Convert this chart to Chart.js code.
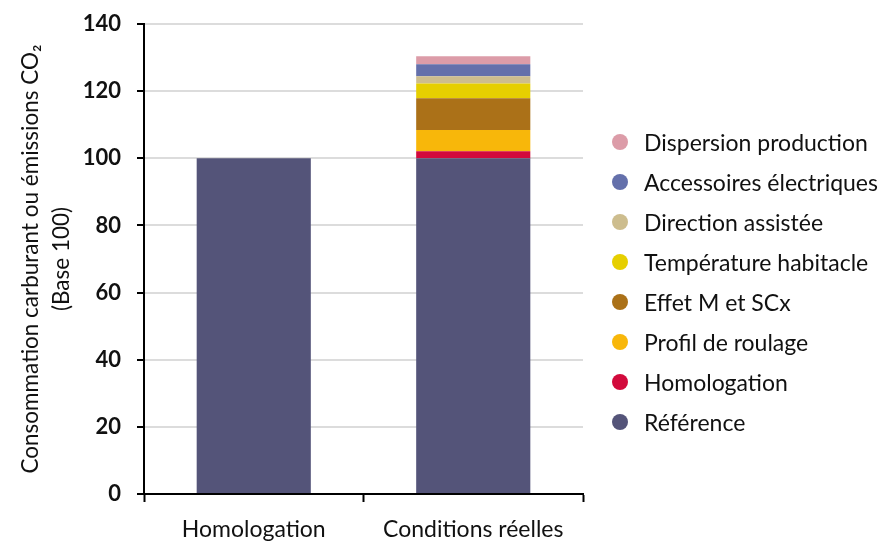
<!DOCTYPE html>
<html>
<head>
<meta charset="utf-8">
<script src="https://cdn.jsdelivr.net/npm/chart.js@4"></script>
<style>
  html, body { margin:0; padding:0; background:#fff; }
  #wrap { position:relative; width:893px; height:544px; }
  #legend { position:absolute; left:612px; top:122px; font-family: Lato, sans-serif; font-size:23px; color:#111; }
  .item { height:40px; display:flex; align-items:center; white-space:nowrap; }
  .dot { width:16px; height:16px; border-radius:50%; margin-right:16px; flex:none; }
</style>
</head>
<body>
<div id="wrap">
  <canvas id="c" width="893" height="544"></canvas>
  <div id="legend"></div>
</div>
<script>
const categories = ["Homologation", "Conditions réelles"];
const seriesNames = ["Référence", "Homologation", "Profil de roulage", "Effet M et SCx", "Température habitacle", "Direction assistée", "Accessoires électriques", "Dispersion production"];
const reference = [100, 100];
const homologation = [null, 2.1];
const profilRoulage = [null, 6.3];
const effetMSCx = [null, 9.5];
const temperatureHabitacle = [null, 4.4];
const directionAssistee = [null, 2.1];
const accessoiresElectriques = [null, 3.6];
const dispersionProduction = [null, 2.4];
const yTicks = [0, 20, 40, 60, 80, 100, 120, 140];
const colors = ["#545479", "#d20a3c", "#f8b70a", "#ab7118", "#e6cf00", "#cdbd8e", "#6470ab", "#dc9ca8"];

const seriesValues = [reference, homologation, profilRoulage, effetMSCx, temperatureHabitacle, directionAssistee, accessoiresElectriques, dispersionProduction];

const datasets = seriesNames.map((n, i) => ({
  label: n,
  data: seriesValues[i],
  backgroundColor: colors[i],
  borderWidth: 0,
  barPercentage: 0.52,
  categoryPercentage: 1.0
}));

const leg = document.getElementById('legend');
for (let i = seriesNames.length - 1; i >= 0; i--) {
  const d = document.createElement('div'); d.className = 'item';
  const s = document.createElement('span'); s.className = 'dot'; s.style.background = colors[i];
  const t = document.createElement('span'); t.textContent = seriesNames[i];
  d.appendChild(s); d.appendChild(t); leg.appendChild(d);
}

new Chart(document.getElementById('c'), {
  type: 'bar',
  data: { labels: categories, datasets },
  options: {
    responsive: false,
    animation: false,
    layout: { padding: { top: 24, right: 310, left: 0, bottom: 0 } },
    plugins: { legend: { display: false }, tooltip: { enabled: false } },
    scales: {
      x: {
        stacked: true,
        grid: { display: true, drawOnChartArea: false, offset: true, tickLength: 8, tickColor: '#000', tickWidth: 2 },
        border: { color: '#000', width: 2 },
        ticks: { color: '#111', font: { family: 'Lato', size: 23 }, padding: 14 },
        afterFit(scale) { scale.height = 50; scale.paddingLeft = 0; scale.paddingRight = 0; }
      },
      y: {
        stacked: true,
        min: 0, max: 140,
        afterBuildTicks(scale) { scale.ticks = yTicks.map(v => ({ value: v })); },
        grid: { color: '#dcdcdc', lineWidth: 2, tickLength: 7, tickColor: '#000', tickWidth: 2 },
        border: { color: '#000', width: 2 },
        ticks: { color: '#111', font: { family: 'Lato', size: 22, weight: 'bold' }, padding: 16 },
        title: {
          display: true,
          text: ["Consommation carburant ou émissions CO₂", "(Base 100)"],
          color: '#111',
          font: { family: 'Lato', size: 22.5, lineHeight: 1.35 },
          padding: { top: 16, bottom: 6 }
        },
        afterFit(scale) { scale.width = 144; scale.paddingTop = 0; scale.paddingBottom = 0; }
      }
    }
  }
});
</script>
</body>
</html>
